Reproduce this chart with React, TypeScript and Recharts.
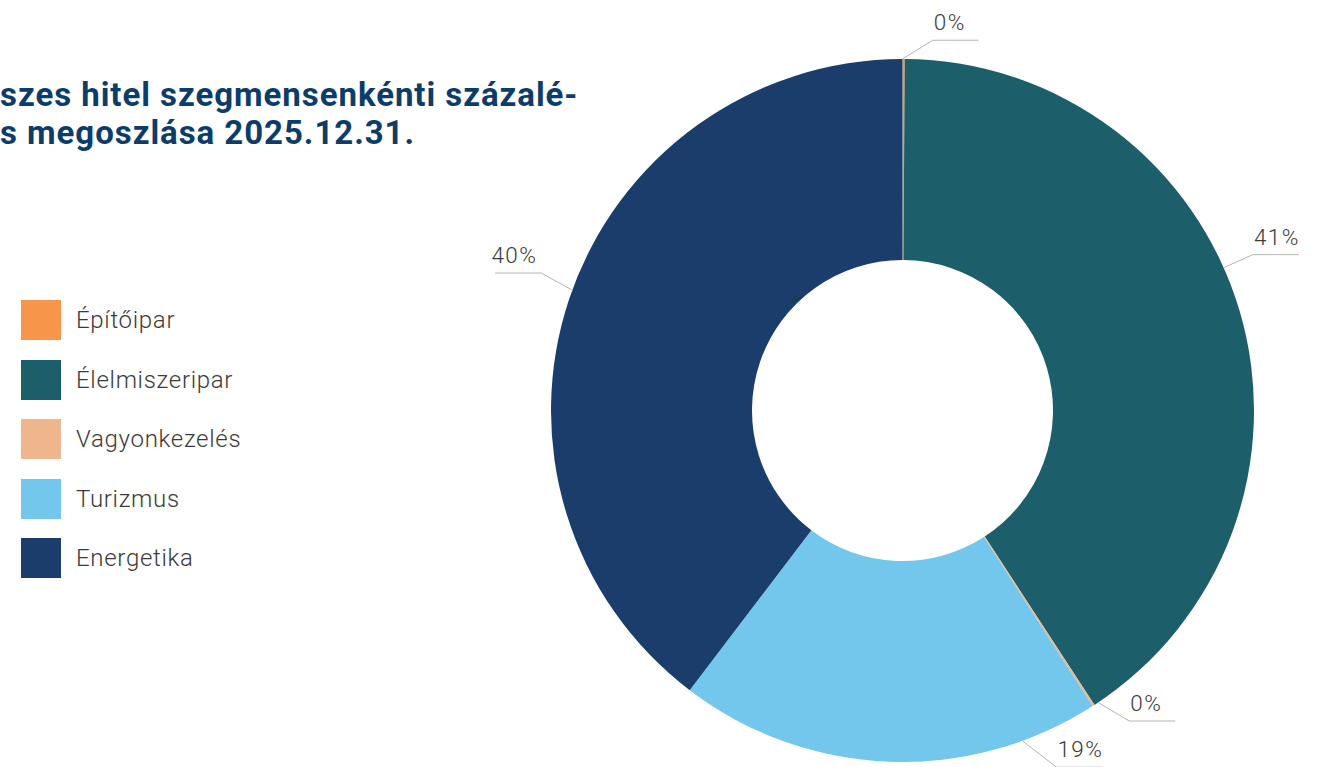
import { PieChart, Pie, Cell } from 'recharts';

const SEGMENTS = ['Építőipar', 'Élelmiszeripar', 'Vagyonkezelés', 'Turizmus', 'Energetika'];
const SHARES = [0.1, 40.7, 0.1, 19.45, 39.65];
const COLORS = ['#f7964a', '#1c5e6a', '#efb68d', '#74c7ec', '#1b3d6b'];

const TITLE_LINES = ['szes hitel szegmensenkénti százalé-', 's megoszlása 2025.12.31.'];

// label leader tweaks (degrees clockwise, relative to slice middle) - Excel style placement
const LABEL_START_SHIFT = [-0.2, -7.6, -0.9, -22.2, 1.4];
const LABEL_ELBOW_SHIFT = [4.5, -7.6, -3.2, -25.6, 2.2];
const LABEL_ELBOW_EXTRA = [20, 32, 33, 37, 35];

const W = 1329;
const H = 767;
const FONT = 'Roboto, "Noto Sans", sans-serif';

const data = SEGMENTS.map((name, i) => ({ name, value: SHARES[i], color: COLORS[i] }));

function pointAt(cx: number, cy: number, r: number, cwDeg: number) {
  const rad = (cwDeg * Math.PI) / 180;
  return { x: cx + r * Math.sin(rad), y: cy - r * Math.cos(rad) };
}

function renderLabel(props: any) {
  const { cx, cy, midAngle, outerRadius, percent, index } = props;
  const mid = 90 - midAngle; // recharts angle -> clockwise from top
  const start = pointAt(cx, cy, outerRadius, mid + LABEL_START_SHIFT[index]);
  const elbow = pointAt(cx, cy, outerRadius + LABEL_ELBOW_EXTRA[index], mid + LABEL_ELBOW_SHIFT[index]);
  const a = (((mid + LABEL_ELBOW_SHIFT[index]) % 360) + 360) % 360;
  const right = a < 180;
  const endX = right ? elbow.x + 46 : elbow.x - 46;
  return (
    <g key={`lbl-${index}`}>
      <polyline
        points={`${start.x},${start.y} ${elbow.x},${elbow.y} ${endX},${elbow.y}`}
        fill="none"
        stroke="#b3b3b3"
        strokeWidth={1}
      />
      <text
        x={right ? elbow.x + 1 : elbow.x - 4}
        y={elbow.y - 10}
        textAnchor={right ? 'start' : 'end'}
        fontFamily={FONT}
        fontWeight={300}
        fontSize={22.5}
        letterSpacing={1.4}
        fill="#3a3a3a"
      >
        {`${Math.round(percent * 100)}%`}
      </text>
    </g>
  );
}

export default function App() {
  return (
    <div
      style={{
        position: 'absolute',
        left: 0,
        top: 0,
        width: W,
        height: H,
        overflow: 'hidden',
        background: '#fff',
        fontFamily: FONT,
      }}
    >
      <div
        style={{
          position: 'absolute',
          left: 0,
          top: 76,
          color: '#0c3d6a',
          fontWeight: 700,
          fontSize: 33,
          lineHeight: '38px',
          whiteSpace: 'nowrap',
          letterSpacing: 0.95,
        }}
      >
        {TITLE_LINES.map((t) => (
          <div key={t}>{t}</div>
        ))}
      </div>

      <div style={{ position: 'absolute', left: 21, top: 300 }}>
        {data.map((d) => (
          <div key={d.name} style={{ display: 'flex', alignItems: 'center', height: 40, marginBottom: 19.5 }}>
            <div style={{ width: 40, height: 40, background: d.color }} />
            <span style={{ marginLeft: 15, fontSize: 24, fontWeight: 300, color: '#3a3a3a', letterSpacing: 0.7 }}>
              {d.name}
            </span>
          </div>
        ))}
      </div>

      <div style={{ position: 'absolute', left: 0, top: 0 }}>
        <PieChart width={W} height={H} margin={{ top: 0, right: 0, bottom: 0, left: 0 }}>
          <Pie
            data={data}
            dataKey="value"
            nameKey="name"
            cx={902.5}
            cy={410.5}
            innerRadius={150.5}
            outerRadius={351.5}
            startAngle={90}
            endAngle={-270}
            stroke="none"
            label={renderLabel}
            labelLine={false}
            isAnimationActive={false}
          >
            {data.map((d) => (
              <Cell key={d.name} fill={d.color} />
            ))}
          </Pie>
        </PieChart>
      </div>
    </div>
  );
}
